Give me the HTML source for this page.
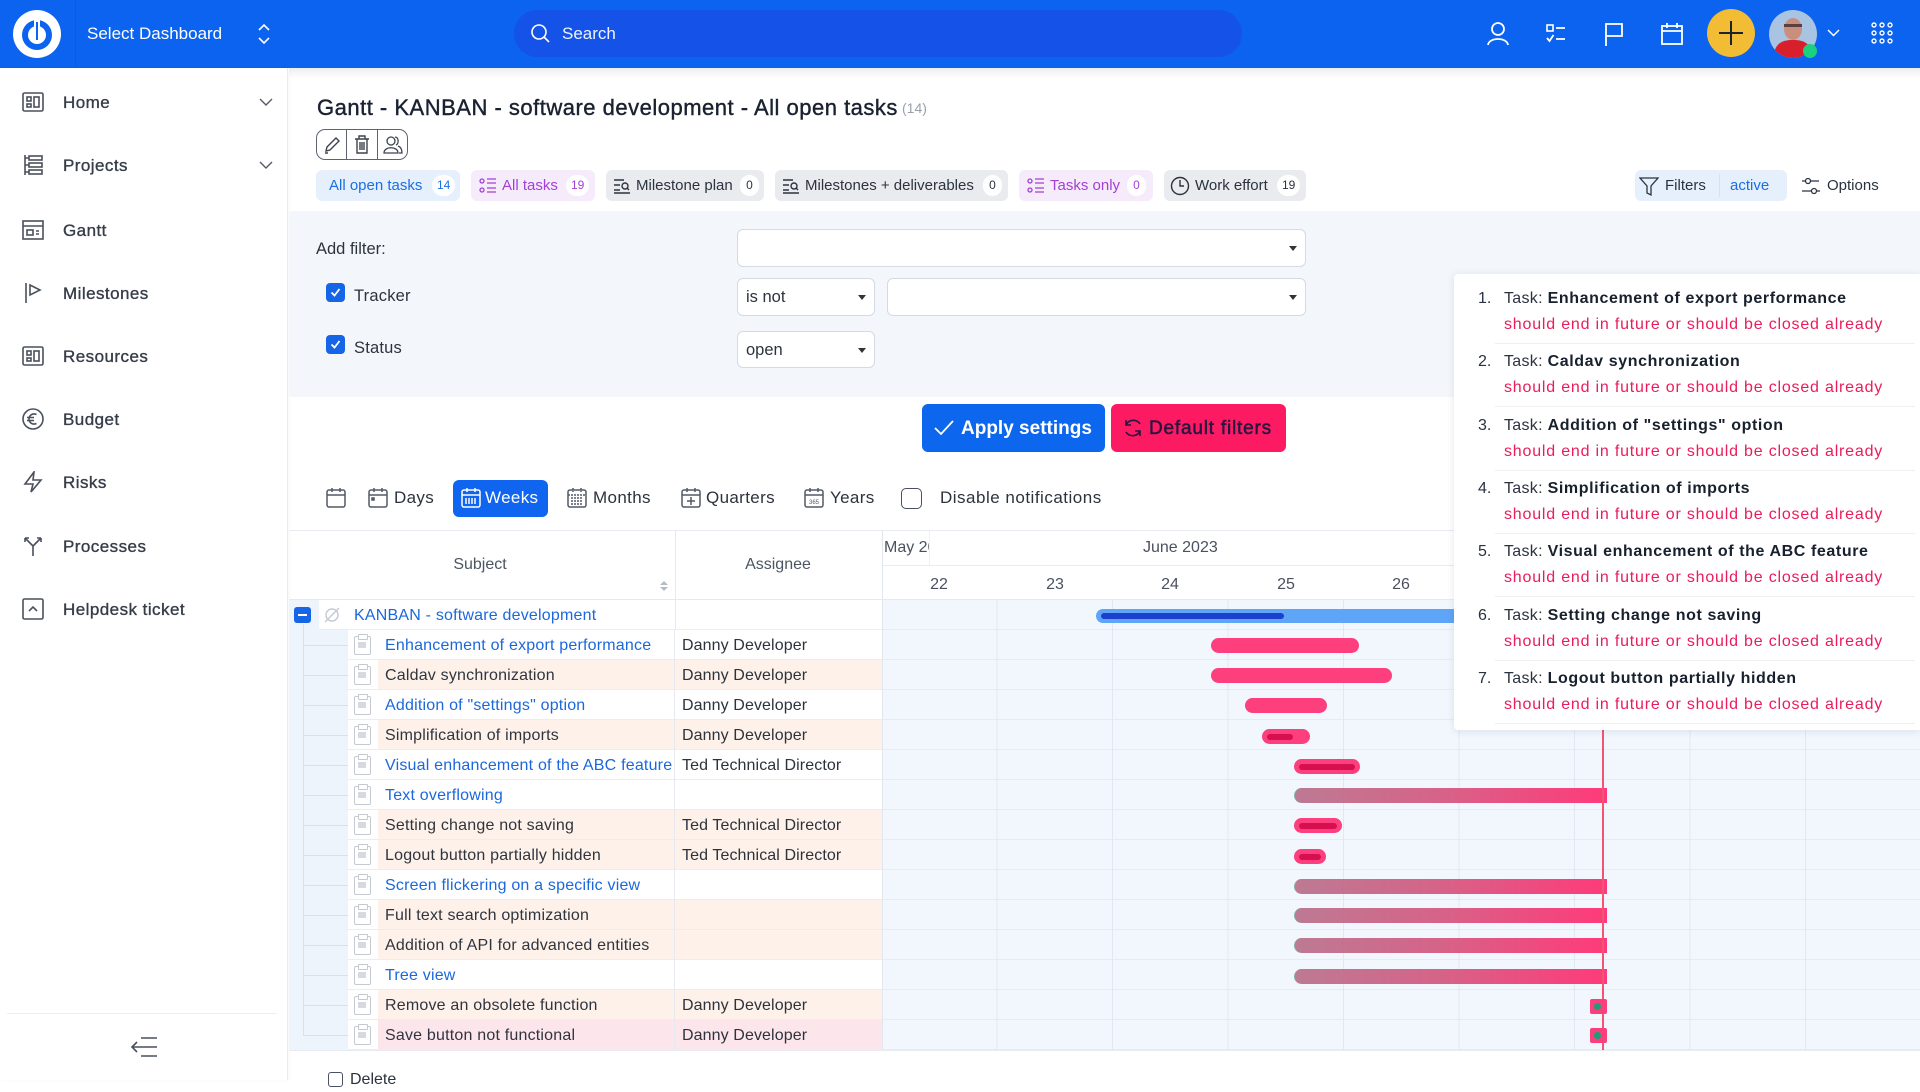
<!DOCTYPE html>
<html><head><meta charset="utf-8">
<style>
*{box-sizing:border-box;margin:0;padding:0}
body{width:1920px;height:1080px;overflow:hidden;position:relative;background:#fff;font-family:"Liberation Sans",Arial,sans-serif;color:#2a303b}
.a{position:absolute}
.t{position:absolute;white-space:nowrap}
.side{position:absolute;left:63px;height:30px;line-height:30px;font-size:17px;color:#363c48;-webkit-text-stroke:0.35px #363c48;letter-spacing:0.45px}
.tab{position:absolute;top:170px;height:31px;border-radius:6px;font-size:15px;line-height:31px;white-space:nowrap}
.bdg{position:absolute;top:5px;height:21px;min-width:19px;padding:0 5px;border-radius:11px;background:#fff;font-size:12px;line-height:21px;text-align:center;color:#2b3340}
.sel{position:absolute;background:#fff;border:1px solid #d3dae4;border-radius:6px}
.sel .ar{position:absolute;right:8px;top:50%;margin-top:-2px;width:0;height:0;border-left:4px solid transparent;border-right:4px solid transparent;border-top:5px solid #333}
.cb{position:absolute;width:19px;height:19px;border-radius:4px;background:#1565e6}
.row{position:absolute;left:348px;width:534px;height:30px;border-bottom:1px solid #eaeef3;font-size:16px;line-height:31px;white-space:nowrap}
.row .s{position:absolute;left:37px;top:0;letter-spacing:0.2px}
.row .as{position:absolute;left:334px;top:0;color:#2d333d;letter-spacing:0.1px}
.row .div{position:absolute;left:326px;top:0;width:1px;height:30px;background:#e6eaf0}
.bg{position:absolute;left:30px;top:0;width:504px;height:29px}
.clip{position:absolute;left:6px;top:6px;width:17px;height:19px;border:1.6px solid #c5cad2;border-radius:2px}
.clip:before{content:"";position:absolute;left:3px;top:-3px;width:8px;height:4px;background:#fff;border:1.5px solid #c5cad2;border-radius:1px}
.clip:after{content:"";position:absolute;left:3px;top:5px;width:8px;height:6px;background:#d6dae0}
.lnk{color:#1b68dc}
.dk{color:#2f353f}
.bar{position:absolute;height:15px;border-radius:8px;background:#fd3f7e}
.inn{position:absolute;height:6px;top:4.5px;border-radius:3px;background:#d60f50}
.gb{position:absolute;height:15px;border-radius:8px 0 0 8px;background:linear-gradient(to right,#bd7a93,#d56489 45%,#ff3a7a);border-left:1.5px solid #7fb3a8}
.nt{position:absolute;left:1454px;width:466px;height:64px}
.nt .n{position:absolute;left:24px;top:15px;font-size:16px;color:#2a3140}
.nt .l1{position:absolute;left:50px;top:15px;font-size:16px;color:#2a3140;white-space:nowrap;letter-spacing:0.3px}
.nt .l1 b{color:#18202e;letter-spacing:0.6px}
.nt .l2{position:absolute;left:50px;top:41px;font-size:16px;color:#ea1c5c;white-space:nowrap;letter-spacing:0.8px}
.nt .sep{position:absolute;left:41px;right:5px;top:68px;height:1px;background:#eef0f3}
.vw{position:absolute;top:486px;height:24px;line-height:24px;font-size:17px;color:#2d333d;white-space:nowrap;letter-spacing:0.35px}
</style></head><body>

<!-- HEADER -->
<div class="a" style="left:0;top:0;width:1920px;height:68px;background:#0c63ef"></div>
<div class="a" style="left:75px;top:0;width:1px;height:68px;background:rgba(0,0,0,0.07)"></div>
<svg class="a" style="left:13px;top:10px" width="48" height="48" viewBox="0 0 48 48">
<circle cx="24" cy="24" r="24" fill="#fff"/>
<circle cx="24" cy="25" r="15" fill="#0c63ef"/>
<circle cx="24" cy="25" r="9" fill="#fff"/>
<rect x="21" y="7" width="6" height="24" rx="3" fill="#fff"/>
<rect x="23" y="12" width="2" height="18" fill="#0c63ef"/>
</svg>
<div class="t" style="left:87px;top:20px;height:28px;line-height:28px;font-size:17px;color:#fff">Select Dashboard</div>
<svg class="a" style="left:257px;top:22px" width="14" height="24" viewBox="0 0 14 24"><path d="M2 8 L7 3 L12 8 M2 16 L7 21 L12 16" stroke="#fff" stroke-width="1.6" fill="none"/></svg>
<div class="a" style="left:514px;top:10px;width:728px;height:47px;border-radius:24px;background:#1553e8"></div>
<svg class="a" style="left:530px;top:23px" width="22" height="22" viewBox="0 0 22 22"><circle cx="9" cy="9" r="7" stroke="#fff" stroke-width="1.6" fill="none"/><path d="M14 14 L19 19" stroke="#fff" stroke-width="1.6"/></svg>
<div class="t" style="left:562px;top:20px;height:28px;line-height:28px;font-size:17px;color:#eef3ff">Search</div>
<!-- right icons -->
<svg class="a" style="left:1485px;top:21px" width="26" height="26" viewBox="0 0 26 26"><circle cx="13" cy="8" r="6" stroke="#fff" stroke-width="1.8" fill="none"/><path d="M3 24 C4 16 22 16 23 24" stroke="#fff" stroke-width="1.8" fill="none"/></svg>
<svg class="a" style="left:1544px;top:22px" width="24" height="24" viewBox="0 0 24 24"><rect x="3" y="3" width="6" height="6" stroke="#fff" stroke-width="1.6" fill="none"/><path d="M12 6 H21 M3 16 L5.5 19 L9.5 13 M12 17 H21" stroke="#fff" stroke-width="1.8" fill="none"/></svg>
<svg class="a" style="left:1602px;top:21px" width="24" height="26" viewBox="0 0 24 26"><path d="M4 25 V3 H20 V15 H4" stroke="#fff" stroke-width="1.8" fill="none"/></svg>
<svg class="a" style="left:1660px;top:21px" width="24" height="26" viewBox="0 0 24 26"><rect x="2" y="5" width="20" height="18" stroke="#fff" stroke-width="1.8" fill="none"/><path d="M2 10 H22 M7 2 V7 M17 2 V7" stroke="#fff" stroke-width="1.8"/></svg>
<svg class="a" style="left:1707px;top:9px" width="48" height="48" viewBox="0 0 48 48"><circle cx="24" cy="24" r="24" fill="#f2bd34"/><path d="M24 12 V36 M12 24 H36" stroke="#1b2230" stroke-width="2"/></svg>
<svg class="a" style="left:1769px;top:10px" width="48" height="48" viewBox="0 0 48 48"><defs><clipPath id="cc"><circle cx="24" cy="24" r="24"/></clipPath></defs><g clip-path="url(#cc)"><rect width="48" height="48" fill="#a9c3e3"/><ellipse cx="24" cy="19" rx="9" ry="11" fill="#c98f7c"/><rect x="15" y="14" width="18" height="3" fill="#5a4040"/><path d="M4 48 C6 32 14 30 24 30 C34 30 42 32 44 48 Z" fill="#d8202c"/></g></svg>
<div class="a" style="left:1803px;top:44px;width:14px;height:14px;border-radius:7px;background:#19d17f"></div>
<svg class="a" style="left:1827px;top:28px" width="13" height="10" viewBox="0 0 13 10"><path d="M1 2 L6.5 7.5 L12 2" stroke="#fff" stroke-width="1.5" fill="none"/></svg>
<svg class="a" style="left:1871px;top:22px" width="22" height="22" viewBox="0 0 22 22" fill="none" stroke="#fff" stroke-width="1.4"><circle cx="3" cy="3" r="2"/><circle cx="11" cy="3" r="2"/><circle cx="19" cy="3" r="2"/><circle cx="3" cy="11" r="2"/><circle cx="11" cy="11" r="2"/><circle cx="19" cy="11" r="2"/><circle cx="3" cy="19" r="2"/><circle cx="11" cy="19" r="2"/><circle cx="19" cy="19" r="2"/></svg>

<!-- SIDEBAR -->
<div class="a" style="left:0;top:68px;width:288px;height:1012px;background:#fff;border-right:1px solid #e7eaef;box-shadow:1px 0 4px rgba(0,0,0,0.04)"></div>
<svg class="a" style="left:22px;top:91px" width="22" height="22" viewBox="0 0 22 22" fill="none" stroke="#4a505c" stroke-width="1.6"><rect x="1" y="2" width="20" height="18" rx="1.5"/><rect x="5" y="6" width="4" height="4"/><rect x="5" y="13" width="4" height="3"/><rect x="12" y="6" width="5" height="10"/></svg>
<div class="side" style="top:88px">Home</div>
<svg class="a" style="left:259px;top:98px" width="14" height="9" viewBox="0 0 14 9"><path d="M1 1 L7 7 L13 1" stroke="#555b66" stroke-width="1.4" fill="none"/></svg>
<svg class="a" style="left:22px;top:154px" width="22" height="22" viewBox="0 0 22 22" fill="none" stroke="#4a505c" stroke-width="1.6"><path d="M3 1 V21"/><rect x="7" y="2" width="13" height="4"/><rect x="7" y="9" width="13" height="4"/><rect x="7" y="16" width="13" height="4"/><path d="M3 4 H7 M3 11 H7 M3 18 H7"/></svg>
<div class="side" style="top:151px">Projects</div>
<svg class="a" style="left:259px;top:161px" width="14" height="9" viewBox="0 0 14 9"><path d="M1 1 L7 7 L13 1" stroke="#555b66" stroke-width="1.4" fill="none"/></svg>
<svg class="a" style="left:22px;top:219px" width="22" height="22" viewBox="0 0 22 22" fill="none" stroke="#4a505c" stroke-width="1.6"><rect x="1" y="2" width="20" height="18"/><path d="M1 7 H21"/><rect x="5" y="11" width="6" height="5"/><path d="M14 12 H17 M14 15 H17"/></svg>
<div class="side" style="top:216px">Gantt</div>
<svg class="a" style="left:22px;top:282px" width="22" height="22" viewBox="0 0 22 22" fill="none" stroke="#4a505c" stroke-width="1.6"><path d="M4 1 V21 M8 3 L18 8 L8 13 Z"/></svg>
<div class="side" style="top:279px">Milestones</div>
<svg class="a" style="left:22px;top:345px" width="22" height="22" viewBox="0 0 22 22" fill="none" stroke="#4a505c" stroke-width="1.6"><rect x="1" y="2" width="20" height="18" rx="1.5"/><rect x="5" y="6" width="4" height="4"/><rect x="5" y="13" width="4" height="3"/><rect x="12" y="6" width="5" height="10"/></svg>
<div class="side" style="top:342px">Resources</div>
<svg class="a" style="left:22px;top:408px" width="22" height="22" viewBox="0 0 22 22" fill="none" stroke="#4a505c" stroke-width="1.6"><circle cx="11" cy="11" r="10"/><path d="M14.5 6.5 C10 4.5 7 8 7 11 C7 14 10 17.5 14.5 15.5 M5 9.5 H12 M5 12.5 H12"/></svg>
<div class="side" style="top:405px">Budget</div>
<svg class="a" style="left:22px;top:471px" width="22" height="22" viewBox="0 0 22 22" fill="none" stroke="#4a505c" stroke-width="1.6"><path d="M12 1 L3 13 H11 L9 21 L19 9 H11 Z"/></svg>
<div class="side" style="top:468px">Risks</div>
<svg class="a" style="left:22px;top:535px" width="22" height="22" viewBox="0 0 22 22" fill="none" stroke="#4a505c" stroke-width="1.6"><path d="M11 21 V11 L3 3 M3 3 H7 M3 3 V7 M11 11 L19 3 M19 3 H15 M19 3 V7"/></svg>
<div class="side" style="top:532px">Processes</div>
<svg class="a" style="left:22px;top:598px" width="22" height="22" viewBox="0 0 22 22" fill="none" stroke="#4a505c" stroke-width="1.6"><rect x="1" y="1" width="20" height="20" rx="1.5"/><path d="M7 13 L11 9 L15 13"/></svg>
<div class="side" style="top:595px">Helpdesk ticket</div>
<div class="a" style="left:7px;top:1013px;width:270px;height:1px;background:#eceef1"></div>
<svg class="a" style="left:130px;top:1036px" width="28" height="22" viewBox="0 0 28 22" fill="none" stroke="#4a505c" stroke-width="1.6"><path d="M11 2 H27 M2 11 H27 M11 20 H27 M7 6 L2 11 L7 16"/></svg>

<!-- top shadow -->
<div class="a" style="left:289px;top:68px;width:1631px;height:10px;background:linear-gradient(rgba(0,0,0,0.07),rgba(0,0,0,0))"></div>

<!-- TITLE -->
<div class="t" style="left:317px;top:92px;height:32px;line-height:32px;font-size:22px;letter-spacing:0.5px;color:#1a2130;-webkit-text-stroke:0.4px #1a2130">Gantt - KANBAN - software development - All open tasks</div>
<div class="t" style="left:902px;top:98px;height:20px;line-height:20px;font-size:14px;color:#9aa1ab">(14)</div>
<div class="a" style="left:316px;top:129px;width:92px;height:31px;border:1px solid #5e646e;border-radius:9px"></div>
<div class="a" style="left:346px;top:130px;width:1px;height:29px;background:#5e646e"></div>
<div class="a" style="left:377px;top:130px;width:1px;height:29px;background:#5e646e"></div>
<svg class="a" style="left:322px;top:135px" width="20" height="20" viewBox="0 0 20 20" fill="none" stroke="#3d434d" stroke-width="1.4"><path d="M4 16 L5 12 L14 3 L17 6 L8 15 Z M3 18 H6"/></svg>
<svg class="a" style="left:352px;top:134px" width="20" height="21" viewBox="0 0 20 21" fill="none" stroke="#3d434d" stroke-width="1.4"><path d="M3 5 H17 M7 5 V2 H13 V5 M5 5 V19 H15 V5 M8 8 V16 M10 8 V16 M12 8 V16"/></svg>
<svg class="a" style="left:382px;top:134px" width="22" height="21" viewBox="0 0 22 21" fill="none" stroke="#3d434d" stroke-width="1.3"><circle cx="9" cy="7" r="4"/><path d="M2 19 C2 12 16 12 16 19 Z M13 3 C17 3 17 10 14 11 M16 12 C19 13 20 16 20 19 H17"/></svg>

<!-- TABS -->
<div class="tab" style="left:316px;width:144px;background:#e6f0fd;color:#1b6fe0"><span class="t" style="left:13px">All open tasks</span><span class="bdg" style="left:116px;color:#1b6fe0">14</span></div>
<div class="tab" style="left:471px;width:124px;background:#f6ebfb;color:#a43fd6">
<svg class="a" style="left:8px;top:7px" width="18" height="18" viewBox="0 0 18 18" fill="none" stroke="#a43fd6" stroke-width="1.3"><circle cx="3" cy="4" r="2"/><circle cx="3" cy="13" r="2"/><path d="M8 2 H17 M8 6 H17 M8 11 H17 M8 15 H17"/></svg>
<span class="t" style="left:31px">All tasks</span><span class="bdg" style="left:95px;color:#a43fd6">19</span></div>
<div class="tab" style="left:606px;width:158px;background:#e9ebee;color:#2b3340">
<svg class="a" style="left:7px;top:8px" width="18" height="16" viewBox="0 0 18 16" fill="none" stroke="#2b3340" stroke-width="1.4"><path d="M1 2 H11 M1 7 H7 M1 12 H7 M1 15 H17"/><circle cx="12" cy="8" r="3"/><path d="M14 10 L16 12"/></svg>
<span class="t" style="left:30px">Milestone plan</span><span class="bdg" style="left:134px">0</span></div>
<div class="tab" style="left:775px;width:233px;background:#e9ebee;color:#2b3340">
<svg class="a" style="left:7px;top:8px" width="18" height="16" viewBox="0 0 18 16" fill="none" stroke="#2b3340" stroke-width="1.4"><path d="M1 2 H11 M1 7 H7 M1 12 H7 M1 15 H17"/><circle cx="12" cy="8" r="3"/><path d="M14 10 L16 12"/></svg>
<span class="t" style="left:30px">Milestones + deliverables</span><span class="bdg" style="left:208px">0</span></div>
<div class="tab" style="left:1019px;width:134px;background:#f6ebfb;color:#a43fd6">
<svg class="a" style="left:8px;top:7px" width="18" height="18" viewBox="0 0 18 18" fill="none" stroke="#a43fd6" stroke-width="1.3"><circle cx="3" cy="4" r="2"/><circle cx="3" cy="13" r="2"/><path d="M8 2 H17 M8 6 H17 M8 11 H17 M8 15 H17"/></svg>
<span class="t" style="left:31px">Tasks only</span><span class="bdg" style="left:108px;color:#a43fd6">0</span></div>
<div class="tab" style="left:1164px;width:142px;background:#e9ebee;color:#2b3340">
<svg class="a" style="left:6px;top:6px" width="20" height="20" viewBox="0 0 20 20" fill="none" stroke="#2b3340" stroke-width="1.4"><circle cx="10" cy="10" r="8.5"/><path d="M10 4 V10 H14"/></svg>
<span class="t" style="left:31px">Work effort</span><span class="bdg" style="left:113px">19</span></div>
<div class="tab" style="left:1635px;width:152px;background:#e6f0fd;color:#2b3340">
<svg class="a" style="left:4px;top:6px" width="20" height="21" viewBox="0 0 20 21" fill="none" stroke="#2b3340" stroke-width="1.3"><path d="M1 2 H19 L12 10 V19 L8 17 V10 Z"/></svg>
<span class="t" style="left:30px">Filters</span>
<span class="a" style="left:84px;top:4px;width:1px;height:23px;background:#d6e2f2"></span>
<span class="t" style="left:95px;color:#1b6fe0">active</span></div>
<svg class="a" style="left:1801px;top:176px" width="20" height="20" viewBox="0 0 20 20" fill="none" stroke="#2b3340" stroke-width="1.3"><circle cx="7" cy="5" r="2.5"/><circle cx="13" cy="15" r="2.5"/><path d="M10 5 H18 M1 5 H4 M1 15 H10 M16 15 H19"/></svg>
<div class="t" style="left:1827px;top:170px;height:31px;line-height:31px;font-size:15px;color:#2b3340">Options</div>

<!-- FILTER PANEL -->
<div class="a" style="left:289px;top:211px;width:1631px;height:186px;background:#f3f7fc"></div>
<div class="t" style="left:316px;top:237px;height:24px;line-height:24px;font-size:16.5px;color:#2d333d">Add filter:</div>
<div class="sel" style="left:737px;top:229px;width:569px;height:38px"><span class="ar"></span></div>
<div class="cb" style="left:326px;top:283px"></div>
<svg class="a" style="left:326px;top:283px" width="19" height="19" viewBox="0 0 19 19"><path d="M5.5 9.5 L8.5 12.5 L13.5 6" stroke="#fff" stroke-width="1.8" fill="none"/></svg>
<div class="t" style="left:354px;top:284px;height:24px;line-height:24px;font-size:16.5px;color:#2d333d;letter-spacing:0.2px">Tracker</div>
<div class="sel" style="left:737px;top:278px;width:138px;height:38px"><span class="t" style="left:8px;top:9px;font-size:16.5px;color:#2d333d">is not</span><span class="ar"></span></div>
<div class="sel" style="left:887px;top:278px;width:419px;height:38px"><span class="ar"></span></div>
<div class="cb" style="left:326px;top:335px"></div>
<svg class="a" style="left:326px;top:335px" width="19" height="19" viewBox="0 0 19 19"><path d="M5.5 9.5 L8.5 12.5 L13.5 6" stroke="#fff" stroke-width="1.8" fill="none"/></svg>
<div class="t" style="left:354px;top:336px;height:24px;line-height:24px;font-size:16.5px;color:#2d333d;letter-spacing:0.2px">Status</div>
<div class="sel" style="left:737px;top:331px;width:138px;height:37px"><span class="t" style="left:8px;top:9px;font-size:16.5px;color:#2d333d">open</span><span class="ar"></span></div>

<!-- BUTTONS -->
<div class="a" style="left:922px;top:404px;width:183px;height:48px;border-radius:6px;background:#0d66ee"></div>
<svg class="a" style="left:934px;top:419px" width="20" height="18" viewBox="0 0 20 18"><path d="M1 9 L7 15 L19 2" stroke="#fff" stroke-width="1.8" fill="none"/></svg>
<div class="t" style="left:961px;top:415px;height:28px;line-height:28px;font-size:19px;font-weight:bold;color:#fff">Apply settings</div>
<div class="a" style="left:1111px;top:404px;width:175px;height:48px;border-radius:6px;background:#fc1a62"></div>
<svg class="a" style="left:1122px;top:417px" width="22" height="22" viewBox="0 0 22 22" fill="none" stroke="#2a1540" stroke-width="1.6"><path d="M18 7 A8 8 0 0 0 4 8 M4 3 V8 H9 M4 15 A8 8 0 0 0 18 14 M18 19 V14 H13"/></svg>
<div class="t" style="left:1149px;top:415px;height:28px;line-height:28px;font-size:19px;letter-spacing:0.8px;color:#2a1540;-webkit-text-stroke:0.5px #2a1540">Default filters</div>

<!-- VIEW ROW -->
<svg class="a" style="left:325px;top:487px" width="22" height="22" viewBox="0 0 22 22" fill="none" stroke="#525966" stroke-width="1.5"><rect x="2" y="3" width="18" height="17" rx="2"/><path d="M2 8 H20 M7 1 V5 M15 1 V5"/></svg>
<svg class="a" style="left:367px;top:487px" width="22" height="22" viewBox="0 0 22 22" fill="none" stroke="#525966" stroke-width="1.5"><rect x="2" y="3" width="18" height="17" rx="2"/><path d="M2 8 H20 M7 1 V5 M15 1 V5"/><rect x="5" y="11" width="2" height="2" fill="#525966"/></svg>
<div class="vw" style="left:394px">Days</div>
<div class="a" style="left:453px;top:480px;width:95px;height:37px;border-radius:6px;background:#0f64f0"></div>
<svg class="a" style="left:460px;top:487px" width="22" height="22" viewBox="0 0 22 22" fill="none" stroke="#fff" stroke-width="1.5"><rect x="2" y="3" width="18" height="17" rx="2"/><path d="M2 8 H20 M7 1 V5 M15 1 V5 M6 11 V17 M9 11 V17 M12 11 V17 M15 11 V17"/></svg>
<div class="vw" style="left:485px;color:#fff">Weeks</div>
<svg class="a" style="left:566px;top:487px" width="22" height="22" viewBox="0 0 22 22" fill="none" stroke="#525966" stroke-width="1.5"><rect x="2" y="3" width="18" height="17" rx="2"/><path d="M2 8 H20 M7 1 V5 M15 1 V5 M5 11 H17 M5 14 H17 M5 17 H17" stroke-dasharray="2 1"/></svg>
<div class="vw" style="left:593px">Months</div>
<svg class="a" style="left:680px;top:487px" width="22" height="22" viewBox="0 0 22 22" fill="none" stroke="#525966" stroke-width="1.5"><rect x="2" y="3" width="18" height="17" rx="2"/><path d="M2 8 H20 M7 1 V5 M15 1 V5 M11 10 V18 M7 14 H15"/></svg>
<div class="vw" style="left:706px">Quarters</div>
<svg class="a" style="left:803px;top:487px" width="22" height="22" viewBox="0 0 22 22" fill="none" stroke="#525966" stroke-width="1.5"><rect x="2" y="3" width="18" height="17" rx="2"/><path d="M2 8 H20 M7 1 V5 M15 1 V5"/><text x="11" y="17" font-size="6" text-anchor="middle" fill="#525966" stroke="none" font-family="Liberation Sans">365</text></svg>
<div class="vw" style="left:830px">Years</div>
<div class="a" style="left:901px;top:488px;width:21px;height:21px;border:1.5px solid #4a5160;border-radius:5px;background:#fff"></div>
<div class="vw" style="left:940px;letter-spacing:0.5px">Disable notifications</div>

<!-- TABLE HEADER -->
<div class="a" style="left:289px;top:530px;width:1631px;height:1px;background:#e8ecf1"></div>
<div class="t" style="left:380px;top:553px;width:200px;height:24px;line-height:24px;text-align:center;font-size:16px;color:#4c5563">Subject</div>
<svg class="a" style="left:659px;top:579px" width="10" height="14" viewBox="0 0 10 14"><path d="M1 6 L5 2 L9 6 Z M1 8 L5 12 L9 8 Z" fill="#b6bcc6"/></svg>
<div class="a" style="left:675px;top:530px;width:1px;height:70px;background:#e6eaf0"></div>
<div class="t" style="left:678px;top:553px;width:200px;height:24px;line-height:24px;text-align:center;font-size:16px;color:#4c5563">Assignee</div>
<div class="a" style="left:882px;top:530px;width:1px;height:520px;background:#e2e7ee"></div>
<div class="a" style="left:289px;top:599px;width:1631px;height:1px;background:#e6eaf0"></div>

<!-- CHART HEADER -->
<div class="a" style="left:883px;top:565px;width:1037px;height:1px;background:#e8ecf1"></div>
<div class="a" style="left:884px;top:536px;width:45px;height:24px;overflow:hidden"><div class="t" style="left:0;top:0;line-height:24px;font-size:16px;color:#4a5160">May 2023</div></div>
<div class="a" style="left:929px;top:531px;width:1px;height:34px;background:#eef1f5"></div>
<div class="t" style="left:1143px;top:536px;line-height:24px;font-size:16px;color:#4a5160">June 2023</div>
<div class="t" style="left:919px;top:573px;width:40px;text-align:center;line-height:24px;font-size:16px;color:#4a5160">22</div>
<div class="t" style="left:1035px;top:573px;width:40px;text-align:center;line-height:24px;font-size:16px;color:#4a5160">23</div>
<div class="t" style="left:1150px;top:573px;width:40px;text-align:center;line-height:24px;font-size:16px;color:#4a5160">24</div>
<div class="t" style="left:1266px;top:573px;width:40px;text-align:center;line-height:24px;font-size:16px;color:#4a5160">25</div>
<div class="t" style="left:1381px;top:573px;width:40px;text-align:center;line-height:24px;font-size:16px;color:#4a5160">26</div>
<div class="t" style="left:1497px;top:573px;width:40px;text-align:center;line-height:24px;font-size:16px;color:#4a5160">27</div>

<!-- CHART BODY -->
<div class="a" style="left:883px;top:600px;width:1037px;height:450px;background-color:#f2f7fd;background-image:repeating-linear-gradient(to right,rgba(0,0,0,0) 0px,rgba(0,0,0,0) 113.5px,#e2e8f0 113.5px,#e2e8f0 114.5px,rgba(0,0,0,0) 114.5px,rgba(0,0,0,0) 115.5px),repeating-linear-gradient(to bottom,rgba(0,0,0,0) 0px,rgba(0,0,0,0) 29px,#e6ecf3 29px,#e6ecf3 30px)"></div>

<!-- TREE GUTTER -->
<div class="a" style="left:289px;top:600px;width:59px;height:450px;background:#eef4fb"></div>
<div class="a" style="left:303px;top:624px;width:1px;height:412px;background:#d8e0ea"></div>
<div class="a" style="left:303px;top:645px;width:45px;height:1px;background:#d8e0ea"></div>
<div class="a" style="left:303px;top:675px;width:45px;height:1px;background:#d8e0ea"></div>
<div class="a" style="left:303px;top:705px;width:45px;height:1px;background:#d8e0ea"></div>
<div class="a" style="left:303px;top:735px;width:45px;height:1px;background:#d8e0ea"></div>
<div class="a" style="left:303px;top:765px;width:45px;height:1px;background:#d8e0ea"></div>
<div class="a" style="left:303px;top:795px;width:45px;height:1px;background:#d8e0ea"></div>
<div class="a" style="left:303px;top:825px;width:45px;height:1px;background:#d8e0ea"></div>
<div class="a" style="left:303px;top:855px;width:45px;height:1px;background:#d8e0ea"></div>
<div class="a" style="left:303px;top:885px;width:45px;height:1px;background:#d8e0ea"></div>
<div class="a" style="left:303px;top:915px;width:45px;height:1px;background:#d8e0ea"></div>
<div class="a" style="left:303px;top:945px;width:45px;height:1px;background:#d8e0ea"></div>
<div class="a" style="left:303px;top:975px;width:45px;height:1px;background:#d8e0ea"></div>
<div class="a" style="left:303px;top:1005px;width:45px;height:1px;background:#d8e0ea"></div>
<div class="a" style="left:303px;top:1035px;width:45px;height:1px;background:#d8e0ea"></div>

<!-- KANBAN row -->
<div class="a" style="left:319px;top:600px;width:563px;height:30px;background:#fff;border-bottom:1px solid #eaeef3"></div>
<div class="a" style="left:675px;top:600px;width:1px;height:30px;background:#e6eaf0"></div>
<div class="a" style="left:294px;top:607px;width:17px;height:16px;border-radius:3px;background:#1565e6"></div>
<div class="a" style="left:298px;top:614px;width:9px;height:2px;background:#fff"></div>
<svg class="a" style="left:323px;top:606px" width="18" height="18" viewBox="0 0 18 18" fill="none" stroke="#c5cad2" stroke-width="1.4"><circle cx="9" cy="9" r="6"/><path d="M2 16 L16 2"/></svg>
<div class="t lnk" style="left:354px;top:601px;line-height:30px;font-size:16px;letter-spacing:0.2px">KANBAN - software development</div>

<!-- TASK ROWS -->
<div class="row" style="top:630px;background:#fff"><span class="clip"></span><span class="s lnk">Enhancement of export performance</span><span class="div"></span><span class="as">Danny Developer</span></div>
<div class="row" style="top:660px;background:#fff"><span class="bg" style="background:#fdf1e9"></span><span class="clip"></span><span class="s dk">Caldav synchronization</span><span class="div"></span><span class="as">Danny Developer</span></div>
<div class="row" style="top:690px;background:#fff"><span class="clip"></span><span class="s lnk">Addition of "settings" option</span><span class="div"></span><span class="as">Danny Developer</span></div>
<div class="row" style="top:720px;background:#fff"><span class="bg" style="background:#fdf1e9"></span><span class="clip"></span><span class="s dk">Simplification of imports</span><span class="div"></span><span class="as">Danny Developer</span></div>
<div class="row" style="top:750px;background:#fff"><span class="clip"></span><span class="s lnk">Visual enhancement of the ABC feature</span><span class="div"></span><span class="as">Ted Technical Director</span></div>
<div class="row" style="top:780px;background:#fff"><span class="clip"></span><span class="s lnk">Text overflowing</span><span class="div"></span></div>
<div class="row" style="top:810px;background:#fff"><span class="bg" style="background:#fdf1e9"></span><span class="clip"></span><span class="s dk">Setting change not saving</span><span class="div"></span><span class="as">Ted Technical Director</span></div>
<div class="row" style="top:840px;background:#fff"><span class="bg" style="background:#fdf1e9"></span><span class="clip"></span><span class="s dk">Logout button partially hidden</span><span class="div"></span><span class="as">Ted Technical Director</span></div>
<div class="row" style="top:870px;background:#fff"><span class="clip"></span><span class="s lnk">Screen flickering on a specific view</span><span class="div"></span></div>
<div class="row" style="top:900px;background:#fff"><span class="bg" style="background:#fdf1e9"></span><span class="clip"></span><span class="s dk">Full text search optimization</span><span class="div"></span></div>
<div class="row" style="top:930px;background:#fff"><span class="bg" style="background:#fdf1e9"></span><span class="clip"></span><span class="s dk">Addition of API for advanced entities</span><span class="div"></span></div>
<div class="row" style="top:960px;background:#fff"><span class="clip"></span><span class="s lnk">Tree view</span><span class="div"></span></div>
<div class="row" style="top:990px;background:#fff"><span class="bg" style="background:#fdf1e9"></span><span class="clip"></span><span class="s dk">Remove an obsolete function</span><span class="div"></span><span class="as">Danny Developer</span></div>
<div class="row" style="top:1020px;background:#fff"><span class="bg" style="background:#fde5ec"></span><span class="clip"></span><span class="s dk">Save button not functional</span><span class="div"></span><span class="as">Danny Developer</span></div>

<!-- BARS -->
<div class="bar" style="left:1096px;width:520px;top:609px;height:14px;border-radius:7px;background:#5ea5f8"></div>
<div class="a" style="left:1101px;top:613px;width:183px;height:6px;border-radius:3px;background:#1d3fcf"></div>
<div class="bar" style="left:1211px;width:148px;top:638px"></div>
<div class="bar" style="left:1211px;width:181px;top:668px"></div>
<div class="bar" style="left:1245px;width:82px;top:698px"></div>
<div class="bar" style="left:1262px;width:48px;top:729px"><span class="inn" style="left:5px;width:26px"></span></div>
<div class="bar" style="left:1294px;width:66px;top:759px"><span class="inn" style="left:5px;width:56px"></span></div>
<div class="gb" style="left:1294px;width:313px;top:788px"></div>
<div class="bar" style="left:1294px;width:48px;top:818px"><span class="inn" style="left:5px;width:38px"></span></div>
<div class="bar" style="left:1294px;width:32px;top:849px"><span class="inn" style="left:5px;width:22px"></span></div>
<div class="gb" style="left:1294px;width:313px;top:879px"></div>
<div class="gb" style="left:1294px;width:313px;top:908px"></div>
<div class="gb" style="left:1294px;width:313px;top:938px"></div>
<div class="gb" style="left:1294px;width:313px;top:969px"></div>
<div class="a" style="left:1602px;top:600px;width:2px;height:450px;background:#f0566f"></div>
<div class="a" style="left:1590px;top:999px;width:17px;height:15px;border-radius:2px;background:#f9407c"></div>
<div class="a" style="left:1594px;top:1003px;width:7px;height:7px;border-radius:4px;background:#1a9f7a"></div>
<div class="a" style="left:1590px;top:1028px;width:17px;height:15px;border-radius:2px;background:#f9407c"></div>
<div class="a" style="left:1594px;top:1032px;width:7px;height:7px;border-radius:4px;background:#1a9f7a"></div>

<!-- below table -->
<div class="a" style="left:289px;top:1050px;width:1631px;height:1px;background:#e8ecf1"></div>
<div class="a" style="left:328px;top:1072px;width:15px;height:15px;border:1.5px solid #4a5160;border-radius:3px"></div>
<div class="t" style="left:350px;top:1068px;line-height:24px;font-size:16px;color:#2d333d">Delete</div>

<!-- NOTIFICATIONS PANEL -->
<div class="a" style="left:1454px;top:274px;width:466px;height:456px;background:#fff;border-radius:4px 0 0 4px;box-shadow:0 1px 8px rgba(30,50,90,0.12)"></div>
<div class="nt" style="top:275px"><span class="n">1.</span><span class="l1">Task: <b>Enhancement of export performance</b></span><span class="l2">should end in future or should be closed already</span><span class="sep"></span></div>
<div class="nt" style="top:338px"><span class="n">2.</span><span class="l1">Task: <b>Caldav synchronization</b></span><span class="l2">should end in future or should be closed already</span><span class="sep"></span></div>
<div class="nt" style="top:402px"><span class="n">3.</span><span class="l1">Task: <b>Addition of "settings" option</b></span><span class="l2">should end in future or should be closed already</span><span class="sep"></span></div>
<div class="nt" style="top:465px"><span class="n">4.</span><span class="l1">Task: <b>Simplification of imports</b></span><span class="l2">should end in future or should be closed already</span><span class="sep"></span></div>
<div class="nt" style="top:528px"><span class="n">5.</span><span class="l1">Task: <b>Visual enhancement of the ABC feature</b></span><span class="l2">should end in future or should be closed already</span><span class="sep"></span></div>
<div class="nt" style="top:592px"><span class="n">6.</span><span class="l1">Task: <b>Setting change not saving</b></span><span class="l2">should end in future or should be closed already</span><span class="sep"></span></div>
<div class="nt" style="top:655px"><span class="n">7.</span><span class="l1">Task: <b>Logout button partially hidden</b></span><span class="l2">should end in future or should be closed already</span><span class="sep"></span></div>

</body></html>
